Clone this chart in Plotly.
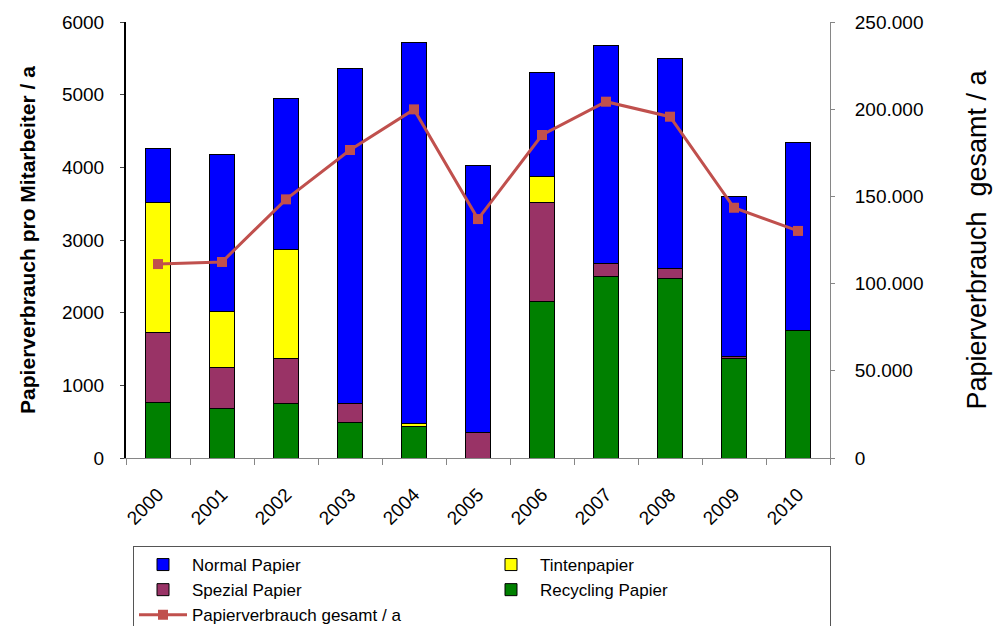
import plotly.graph_objects as go

years = ["2000", "2001", "2002", "2003", "2004", "2005", "2006", "2007", "2008", "2009", "2010"]
recycling = [766, 684, 753, 491, 436, 0, 2151, 2500, 2472, 1372, 1748]
spezial = [959, 559, 619, 256, 0, 354, 1362, 183, 138, 27, 0]
tinten = [1794, 775, 1500, 0, 36, 0, 358, 0, 0, 0, 0]
normal = [743, 2152, 2078, 4611, 5243, 3678, 1431, 2991, 2890, 2197, 2596]
gesamt = [111200, 112400, 148300, 176600, 199900, 137000, 185200, 204300, 195700, 143500, 130200]

FONT = "Liberation Sans, Arial, sans-serif"

def nz(v):
    return [x if x else None for x in v]

fig = go.Figure()
bar_specs = [
    ("Recycling Papier", recycling, "#008000", 4),
    ("Spezial Papier", spezial, "#993366", 3),
    ("Tintenpapier", tinten, "#FFFF00", 2),
    ("Normal Papier", normal, "#0000FF", 1),
]
for name, vals, col, rank in bar_specs:
    fig.add_trace(go.Bar(x=years, y=nz(vals), name=name, marker=dict(color=col, line=dict(color="black", width=1)),
                         legendrank=rank))

fig.add_trace(go.Scatter(x=years, y=gesamt, name="Papierverbrauch gesamt / a", yaxis="y2", mode="lines+markers",
                         line=dict(color="#C0504D", width=3), marker=dict(symbol="square", size=10, color="#C0504D"),
                         legendrank=5))

fig.update_layout(
    width=995, height=626,
    margin=dict(l=126, r=165, t=22, b=168),
    barmode="stack", bargap=0.6,
    plot_bgcolor="white", paper_bgcolor="white",
    separators=",.",
    font=dict(family=FONT, size=19, color="black"),
    xaxis=dict(type="category", range=[-0.5, 10.5], tickangle=-45, ticks="outside", tickson="boundaries", ticklen=6,
               showline=True, linecolor="#868686", linewidth=1, showgrid=False, tickcolor="#868686",
               tickfont=dict(size=19), ticklabelstandoff=17, automargin=False),
    yaxis=dict(range=[0, 6000], dtick=1000, ticks="outside", ticklen=4, showline=True, linecolor="black",
               linewidth=2, showgrid=False, zeroline=False, tickfont=dict(size=19), ticklabelstandoff=12,
               automargin=False,
               title=dict(text="<b>Papierverbrauch pro Mitarbeiter / a</b>", font=dict(size=21), standoff=21)),
    yaxis2=dict(range=[0, 250000], dtick=50000, overlaying="y", side="right", ticks="outside", ticklen=4,
                tickformat=",d", showline=True, linecolor="#868686", linewidth=1, tickcolor="#868686",
                showgrid=False, zeroline=False, tickfont=dict(size=19), ticklabelstandoff=16, automargin=False,
                title=dict(text="Papierverbrauch  gesamt / a", font=dict(size=27), standoff=44)),
    legend=dict(orientation="h", xref="container", yref="container", x=133 / 995, xanchor="left",
                y=(626 - 546) / 626, yanchor="top", traceorder="normal",
                entrywidth=285, bordercolor="#555555", borderwidth=1, font=dict(size=17), tracegroupgap=0,
                itemwidth=48),
    showlegend=True,
)

fig.write_html("out.html", config={"displayModeBar": False},
               post_script="document.body.style.margin='0';document.body.style.overflow='hidden';")
